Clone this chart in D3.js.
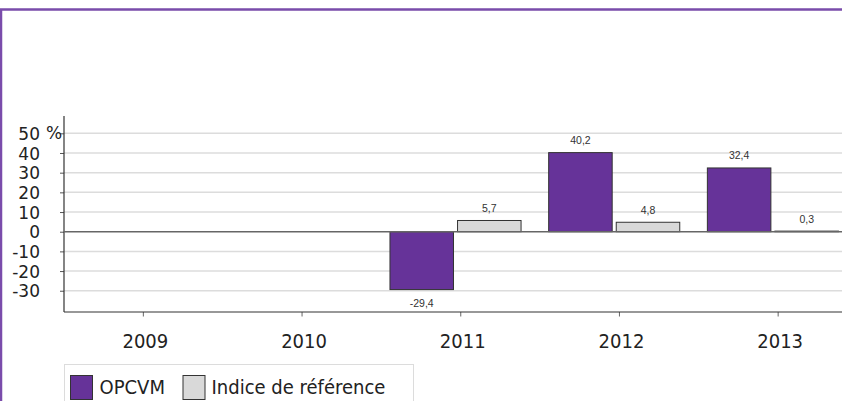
<!DOCTYPE html>
<html><head><meta charset="utf-8">
<script src="https://cdn.jsdelivr.net/npm/d3@7"></script>
<style>html,body{margin:0;padding:0;background:#fff;}svg{display:block;}</style>
</head><body>
<svg id="chart" width="842" height="401"></svg>
<script>
const years = ["2009","2010","2011","2012","2013"];
const seriesNames = ["OPCVM","Indice de référence"];
const opcvm = [null, null, -29.4, 40.2, 32.4];
const indice = [null, null, 5.7, 4.8, 0.3];
const yTicks = [-30,-20,-10,0,10,20,30,40,50];
const colors = ["#663399","#d9d9d9"];

(function(){
const svg = d3.select("#chart");
const W = 842, H = 401;

// frame
svg.append("path").attr("d", `M1,401 L1,9.5 L842,9.5`).attr("fill","none")
  .attr("stroke","#7a4cab").attr("stroke-width",2.5);

const mLeft = 64, mTop = 116, mBottom = 312;
const y = d3.scaleLinear().domain([-40.8, 58.8]).range([mBottom, mTop]);
const x = d3.scaleBand().domain(years).range([mLeft, mLeft + 5*158.7]);
const x1 = d3.scaleBand().domain(seriesNames)
  .range([x.bandwidth()*0.054, x.bandwidth()*0.88]).paddingInner(0.06);

// gridlines
svg.append("g").selectAll("line").data(yTicks.filter(d=>d!==0)).join("line")
  .attr("x1", mLeft).attr("x2", W).attr("y1", d=>y(d)).attr("y2", d=>y(d))
  .attr("stroke","#dcdcdc").attr("stroke-width",1.5);

// y axis
const yAxis = d3.axisLeft(y).tickValues(yTicks).tickSize(4).tickPadding(20)
  .tickFormat(d=>String(d));
const ga = svg.append("g").attr("transform",`translate(${mLeft},0)`).call(yAxis);
ga.select(".domain").remove();
ga.selectAll(".tick line").attr("stroke","#555");
ga.selectAll(".tick text").attr("font-family","DejaVu Sans").attr("font-size",17)
  .attr("fill","#222").attr("dy","0.36em");
svg.append("text").attr("x", 46).attr("y", y(50)).attr("dy","0.36em")
  .attr("font-family","DejaVu Sans").attr("font-size",17).attr("fill","#222").text("%");
svg.append("line").attr("x1",mLeft).attr("x2",mLeft).attr("y1",mTop).attr("y2",mBottom)
  .attr("stroke","#333").attr("stroke-width",1.2);

// x axis
const xAxis = d3.axisBottom(x).tickSize(4.5).tickPadding(17);
const gx = svg.append("g").attr("transform",`translate(0,${mBottom})`).call(xAxis);
gx.select(".domain").remove();
gx.selectAll(".tick line").attr("stroke","#666");
gx.selectAll(".tick text").attr("font-family","DejaVu Sans Condensed").attr("font-size",20)
  .attr("fill","#222").attr("dx","2");
svg.append("line").attr("x1",mLeft).attr("x2",W).attr("y1",mBottom).attr("y2",mBottom)
  .attr("stroke","#333").attr("stroke-width",1.2);

// bars
const data = [];
years.forEach((yr,i)=>{
  if (opcvm[i] !== null) data.push({yr, s:seriesNames[0], v:opcvm[i], c:colors[0]});
  if (indice[i] !== null) data.push({yr, s:seriesNames[1], v:indice[i], c:colors[1]});
});
const fmt = v => (v < 0 ? "-" : "") + Math.abs(v).toFixed(1).replace(".", ",");
const gb = svg.append("g");
gb.selectAll("rect").data(data).join("rect")
  .attr("x", d=>x(d.yr)+x1(d.s)).attr("width", x1.bandwidth())
  .attr("y", d=>Math.min(y(d.v), y(0))).attr("height", d=>Math.abs(y(d.v)-y(0)))
  .attr("fill", d=>d.c).attr("stroke","#333").attr("stroke-width",1);

// zero line
svg.append("line").attr("x1",mLeft).attr("x2",W).attr("y1",y(0)).attr("y2",y(0))
  .attr("stroke","#666").attr("stroke-width",1.5);

gb.selectAll("text").data(data).join("text")
  .attr("x", d=>x(d.yr)+x1(d.s)+x1.bandwidth()/2)
  .attr("y", d=> d.v>=0 ? y(d.v)-8.5 : y(d.v)+17)
  .attr("text-anchor","middle").attr("font-family","Liberation Sans, Arial").attr("font-size",10.5)
  .attr("fill","#333").text(d=>fmt(d.v));

// legend
const lg = svg.append("g");
lg.append("rect").attr("x",64.5).attr("y",364.5).attr("width",349).attr("height",45)
  .attr("fill","none").attr("stroke","#dcdcdc").attr("stroke-width",1);
const legItems = [{n:seriesNames[0], c:colors[0], sx:70, tx:99.5},{n:seriesNames[1], c:colors[1], sx:182.5, tx:211.5}];
legItems.forEach(it=>{
  lg.append("rect").attr("x",it.sx+0.5).attr("y",375.5).attr("width",22).attr("height",24)
    .attr("fill",it.c).attr("stroke","#333").attr("stroke-width",1);
  lg.append("text").attr("x",it.tx).attr("y",393.5).attr("font-family","DejaVu Sans Condensed")
    .attr("font-size",20).attr("fill","#222").text(it.n);
});
})();
</script>
</body></html>
